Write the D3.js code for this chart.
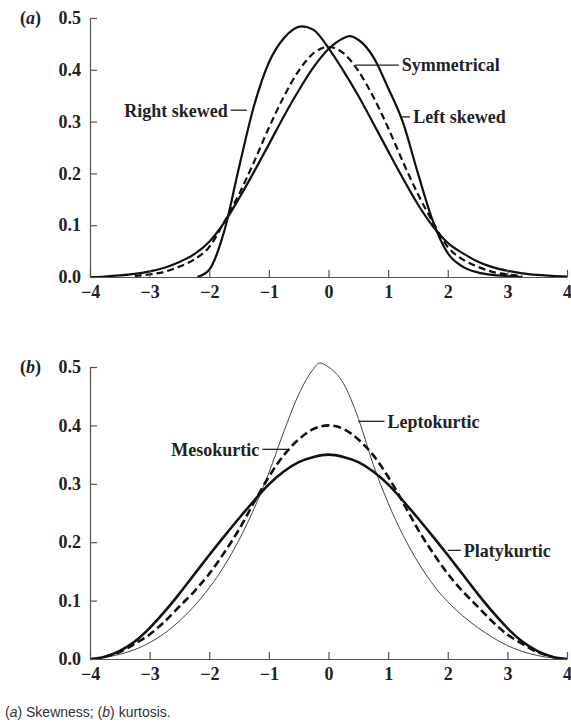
<!DOCTYPE html>
<html>
<head>
<meta charset="utf-8">
<script src="https://cdn.jsdelivr.net/npm/d3@7"></script>
<style>
    body { margin: 0; background: #fff; }
    svg { display: block; }
</style>
</head>
<body>
<div id="chart"></div>
<script>
// Values (x in standard units, y density)
const xTicks = [-4, -3, -2, -1, 0, 1, 2, 3, 4];
const yTicks = [0.0, 0.1, 0.2, 0.3, 0.4, 0.5];

// (a) skewness
const symX = [-3.25, -3, -2.75, -2.5, -2.25, -2, -1.75, -1.5, -1.25, -1, -0.75, -0.5, -0.25, 0,
              0.25, 0.5, 0.75, 1, 1.25, 1.5, 1.75, 2, 2.25, 2.5, 2.75, 3, 3.25];
const symY = [0.002, 0.005, 0.010, 0.020, 0.034, 0.058, 0.106, 0.160, 0.222, 0.288, 0.348, 0.398, 0.432, 0.444,
              0.432, 0.398, 0.348, 0.288, 0.222, 0.160, 0.106, 0.058, 0.034, 0.020, 0.010, 0.005, 0.002];

const leftSkewX = [-4, -3.75, -3.5, -3.25, -3, -2.75, -2.5, -2.25, -2, -1.75, -1.5, -1.25, -1, -0.75, -0.5, -0.25, 0,
                   0.25, 0.35, 0.5, 0.75, 1, 1.25, 1.5, 1.75, 2, 2.25, 2.5, 2.75, 3, 3.25];
const leftSkewY = [0.000, 0.001, 0.003, 0.006, 0.011, 0.018, 0.029, 0.044, 0.068, 0.105, 0.152, 0.203, 0.256, 0.310, 0.360, 0.405, 0.440,
                   0.461, 0.465, 0.458, 0.425, 0.365, 0.298, 0.200, 0.108, 0.046, 0.020, 0.009, 0.004, 0.002, 0.000];

const rightSkewX = [-2.2, -2, -1.75, -1.5, -1.25, -1, -0.75, -0.45, -0.25, 0, 0.25, 0.5, 0.75, 1,
                    1.25, 1.5, 1.75, 2, 2.25, 2.5, 2.75, 3, 3.25, 3.5, 3.75, 4];
const rightSkewY = [0.000, 0.014, 0.088, 0.212, 0.330, 0.414, 0.461, 0.484, 0.477, 0.442, 0.398, 0.350, 0.297, 0.243,
                    0.190, 0.140, 0.098, 0.066, 0.046, 0.030, 0.019, 0.012, 0.007, 0.004, 0.002, 0.001];

// (b) kurtosis
const mesoX = [-3.75, -3.5, -3.25, -3, -2.75, -2.5, -2.25, -2, -1.75, -1.5, -1.25, -1, -0.75, -0.5, -0.25, 0,
               0.25, 0.5, 0.75, 1, 1.25, 1.5, 1.75, 2, 2.25, 2.5, 2.75, 3, 3.25, 3.5, 3.75];
const mesoY = [0.004, 0.012, 0.026, 0.042, 0.064, 0.090, 0.116, 0.146, 0.182, 0.222, 0.268, 0.312, 0.349, 0.376, 0.394, 0.400,
               0.394, 0.376, 0.349, 0.312, 0.268, 0.222, 0.182, 0.146, 0.116, 0.090, 0.064, 0.042, 0.026, 0.012, 0.004];

const platyX = [-4, -3.75, -3.5, -3.25, -3, -2.75, -2.5, -2.25, -2, -1.75, -1.5, -1.25, -1, -0.75, -0.5, -0.25, 0,
                0.25, 0.5, 0.75, 1, 1.25, 1.5, 1.75, 2, 2.25, 2.5, 2.75, 3, 3.25, 3.5, 3.75, 4];
const platyY = [0.000, 0.004, 0.014, 0.030, 0.053, 0.081, 0.112, 0.145, 0.178, 0.210, 0.241, 0.271, 0.299, 0.321, 0.337, 0.346, 0.350,
                0.346, 0.337, 0.321, 0.299, 0.271, 0.241, 0.210, 0.178, 0.145, 0.112, 0.081, 0.053, 0.030, 0.014, 0.004, 0.000];

const leptoX = [-4, -3.75, -3.5, -3.25, -3, -2.75, -2.5, -2.25, -2, -1.75, -1.5, -1.25, -1, -0.75, -0.5, -0.25, -0.15, 0,
                0.25, 0.5, 0.75, 1, 1.25, 1.5, 1.75, 2, 2.25, 2.5, 2.75, 3, 3.25, 3.5, 3.75, 4];
const leptoY = [0.000, 0.003, 0.008, 0.016, 0.028, 0.044, 0.065, 0.091, 0.122, 0.159, 0.204, 0.257, 0.319, 0.389, 0.453, 0.497, 0.507, 0.500,
                0.472, 0.412, 0.333, 0.267, 0.212, 0.166, 0.128, 0.098, 0.074, 0.054, 0.037, 0.023, 0.013, 0.006, 0.002, 0.000];

// Zip helper
const pts = (xs, ys) => xs.map((x, i) => [x, ys[i]]);

const W = 571, H = 727;
const svg = d3.select("#chart").append("svg")
    .attr("width", W)
    .attr("height", H)
    .style("background", "#fff");

const serif = "'Liberation Serif', 'Times New Roman', serif";

const x = d3.scaleLinear().domain([-4, 4]).range([90, 567]);

const panels = [
    {
        letter: "a", top: 18, bottom: 277,
        series: [
            { data: pts(rightSkewX, rightSkewY), width: 2.2, dash: null, color: "#111" },
            { data: pts(leftSkewX, leftSkewY), width: 2.2, dash: null, color: "#111" },
            { data: pts(symX, symY), width: 2.2, dash: "7,4", color: "#111" }
        ],
        notes: [
            { text: "Right skewed", x1: -1.64, x2: -1.37, y: 0.322, side: "left" },
            { text: "Symmetrical", x1: 0.45, x2: 1.18, y: 0.409, side: "right" },
            { text: "Left skewed", x1: 1.22, x2: 1.37, y: 0.309, side: "right" }
        ]
    },
    {
        letter: "b", top: 367, bottom: 659,
        series: [
            { data: pts(leptoX, leptoY), width: 1, dash: null, color: "#444" },
            { data: pts(platyX, platyY), width: 2.6, dash: null, color: "#111" },
            { data: pts(mesoX, mesoY), width: 2.6, dash: "8,4", color: "#111" }
        ],
        notes: [
            { text: "Mesokurtic", x1: -1.11, x2: -0.69, y: 0.359, side: "left" },
            { text: "Leptokurtic", x1: 0.50, x2: 0.94, y: 0.407, side: "right" },
            { text: "Platykurtic", x1: 2.0, x2: 2.22, y: 0.186, side: "right" }
        ]
    }
];

panels.forEach(p => {
    const y = d3.scaleLinear().domain([0, 0.5]).range([p.bottom, p.top]);
    const g = svg.append("g");

    // Curves
    const line = d3.line()
        .x(d => x(d[0]))
        .y(d => y(d[1]))
        .curve(d3.curveMonotoneX);

    p.series.forEach(s => {
        g.append("path")
            .attr("d", line(s.data))
            .attr("fill", "none")
            .attr("stroke", s.color)
            .attr("stroke-width", s.width)
            .attr("stroke-dasharray", s.dash)
            .attr("stroke-linejoin", "round");
    });

    // Y axis, ticks pointing inward
    const yAxis = g.append("g")
        .attr("transform", `translate(${x(-4)},0)`)
        .call(d3.axisLeft(y).tickValues(yTicks).tickFormat(d3.format(".1f"))
            .tickSizeInner(-7).tickSizeOuter(0).tickPadding(9));

    // X axis, ticks pointing up
    const xAxis = g.append("g")
        .attr("transform", `translate(0,${p.bottom})`)
        .call(d3.axisBottom(x).tickValues(xTicks).tickFormat(d3.format("d"))
            .tickSizeInner(-7).tickSizeOuter(0).tickPadding(8));

    [yAxis, xAxis].forEach(ax => {
        ax.select(".domain").attr("stroke", "#555").attr("stroke-width", 1.2);
        ax.selectAll(".tick line").attr("stroke", "#555").attr("stroke-width", 1.2);
        ax.selectAll("text")
            .attr("fill", "#222")
            .style("font-family", serif)
            .style("font-size", "18px")
            .style("font-weight", "bold");
    });

    // Panel letter
    const lt = g.append("text")
        .attr("x", 20)
        .attr("y", p.top)
        .attr("dy", "0.35em")
        .attr("fill", "#222")
        .style("font-family", serif)
        .style("font-size", "18px")
        .style("font-weight", "bold");
    lt.append("tspan").text("(");
    lt.append("tspan").style("font-style", "italic").text(p.letter);
    lt.append("tspan").text(")");

    // Curve labels with leader lines
    p.notes.forEach(n => {
        g.append("line")
            .attr("x1", x(n.x1)).attr("x2", x(n.x2))
            .attr("y1", y(n.y)).attr("y2", y(n.y))
            .attr("stroke", "#222")
            .attr("stroke-width", 1.3);
        g.append("text")
            .attr("x", n.side === "left" ? x(n.x1) - 3 : x(n.x2) + 3)
            .attr("y", y(n.y))
            .attr("dy", "0.35em")
            .attr("text-anchor", n.side === "left" ? "end" : "start")
            .attr("fill", "#222")
            .style("font-family", serif)
            .style("font-size", "18px")
            .style("font-weight", "bold")
            .text(n.text);
    });
});

// Caption
const cap = svg.append("text")
    .attr("x", 5)
    .attr("y", 717)
    .attr("fill", "#333")
    .style("font-family", "'Liberation Sans', Arial, sans-serif")
    .style("font-size", "14px");
cap.append("tspan").text("(");
cap.append("tspan").style("font-style", "italic").text("a");
cap.append("tspan").text(") Skewness; (");
cap.append("tspan").style("font-style", "italic").text("b");
cap.append("tspan").text(") kurtosis.");
</script>
</body>
</html>
